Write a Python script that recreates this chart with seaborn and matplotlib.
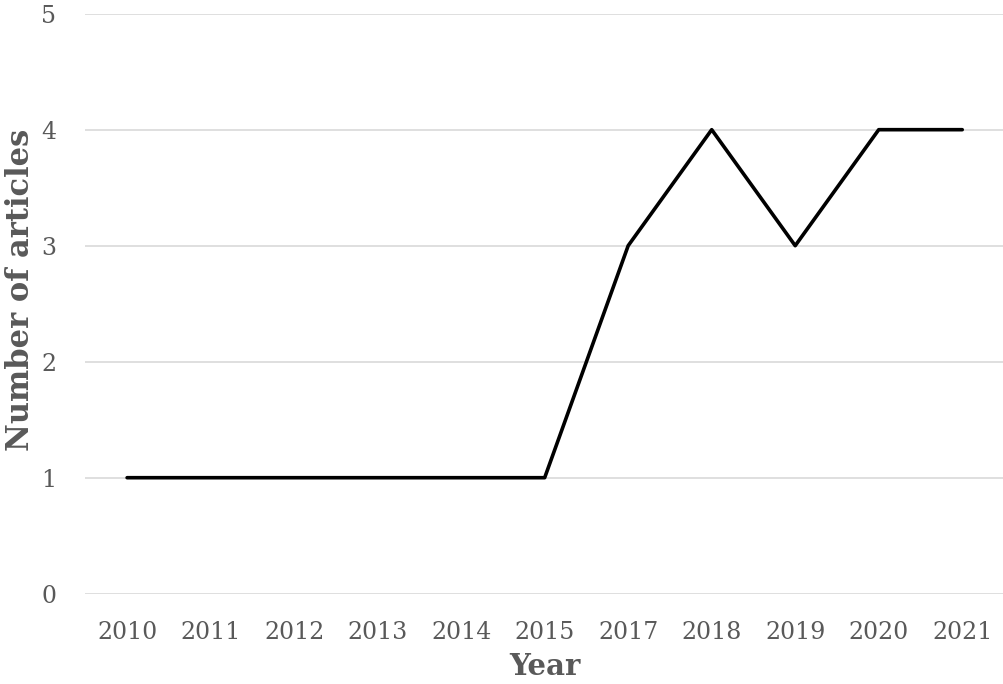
import matplotlib
matplotlib.use("Agg")
import matplotlib.pyplot as plt
import pandas as pd
import seaborn as sns

years = ["2010", "2011", "2012", "2013", "2014", "2015",
         "2017", "2018", "2019", "2020", "2021"]
articles = [1, 1, 1, 1, 1, 1, 3, 4, 3, 4, 4]
y_ticks = [0, 1, 2, 3, 4, 5]

sns.set_theme(style="white")
plt.rcParams["font.family"] = ["DejaVu Serif"]

df = pd.DataFrame({"Year": years, "Number of articles": articles})

fig = plt.figure(figsize=(10.04, 6.84), dpi=100)
ax = fig.add_axes([0.085, 0.132, 0.915, 0.848])

sns.lineplot(data=df, x="Year", y="Number of articles", sort=False,
             color="black", linewidth=2.6, ax=ax, zorder=3)

ax.set_xlim(-0.5, len(years) - 0.5)
ax.set_ylim(0, 5)
ax.set_yticks(y_ticks)
ax.grid(axis="y", color="#d9d9d9", linewidth=1.2)
ax.grid(axis="x", visible=False)
for s in ax.spines.values():
    s.set_visible(False)

text_color = "#595959"
ax.tick_params(axis="both", length=0, labelsize=17, labelcolor=text_color)
ax.tick_params(axis="x", pad=20)
ax.tick_params(axis="y", pad=21)
ax.set_xlabel("Year", fontsize=21, fontweight="bold", color=text_color)
ax.set_ylabel("Number of articles", fontsize=22, fontweight="bold", color=text_color)
ax.xaxis.set_label_coords(0.5, -0.1)
ax.yaxis.set_label_coords(-0.054, 0.524)

fig.savefig("out.png", dpi=100)
